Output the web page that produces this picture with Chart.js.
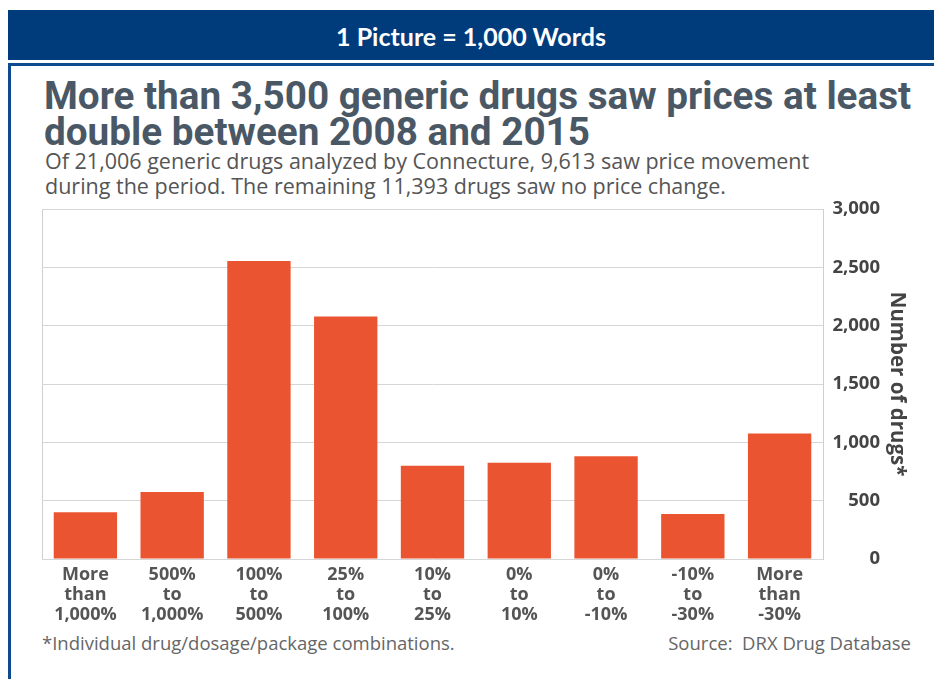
<!DOCTYPE html>
<html>
<head>
<meta charset="utf-8">
<script src="https://cdn.jsdelivr.net/npm/chart.js@4"></script>
<style>
  body { margin: 0; background: #fff; width: 934px; height: 679px; overflow: hidden; position: relative; }
  .banner { position: absolute; left: 8px; top: 10px; width: 926px; height: 50px; background: #003b7c;
    color: #fff; font: bold 25px Lato, sans-serif; text-align: center; line-height: 52px; }
  .frame { position: absolute; left: 8px; top: 63px; width: 960px; height: 640px; border: 3px solid #0e4a8e; }
  .title { position: absolute; left: 44px; top: 78px; font: bold 38.7px Roboto, sans-serif; color: #4a5866;
    line-height: 36px; white-space: nowrap; }
  .sub { position: absolute; left: 45px; top: 148px; font: 21.5px "Open Sans", sans-serif; color: #555;
    line-height: 25px; white-space: nowrap; }
  .foot { position: absolute; top: 630px; font: 18.5px "Open Sans", sans-serif; color: #666; white-space: nowrap; }
  .chart { position: absolute; left: 20px; top: 190px; width: 910px; height: 440px; }
</style>
</head>
<body>
<div class="banner">1 Picture = 1,000 Words</div>
<div class="frame"></div>
<div class="title">More than 3,500 generic drugs saw prices at least<br>double between 2008 and 2015</div>
<div class="sub">Of 21,006 generic drugs analyzed by Connecture, 9,613 saw price movement<br>during the period. The remaining 11,393 drugs saw no price change.</div>
<div class="chart"><canvas id="chart" width="910" height="440"></canvas></div>
<div class="foot" style="left:42px">*Individual drug/dosage/package combinations.</div>
<div class="foot" style="right:23px">Source:&nbsp; DRX Drug Database</div>
<script>
// Price change buckets, 2008-2015
const categories = [
  ['More', 'than', '1,000%'],
  ['500%', 'to', '1,000%'],
  ['100%', 'to', '500%'],
  ['25%', 'to', '100%'],
  ['10%', 'to', '25%'],
  ['0%', 'to', '10%'],
  ['0%', 'to', '-10%'],
  ['-10%', 'to', '-30%'],
  ['More', 'than', '-30%']
];
const drugCounts = [400, 575, 2555, 2080, 800, 825, 880, 385, 1075];
const yTicks = [0, 500, 1000, 1500, 2000, 2500, 3000];

const ctx = document.getElementById('chart').getContext('2d');
new Chart(ctx, {
  type: 'bar',
  data: {
    labels: categories,
    datasets: [{
      label: 'Number of drugs',
      data: drugCounts,
      backgroundColor: '#eb5430',
      categoryPercentage: 1,
      barPercentage: 0.73
    }]
  },
  options: {
    responsive: false,
    animation: false,
    // right padding pulls the y axis box in so its labels end at the right spot
    layout: { padding: { left: 22, top: 14, right: 50, bottom: 0 } },
    plugins: {
      legend: { display: false },
      tooltip: { enabled: false }
    },
    scales: {
      x: {
        grid: {
          drawTicks: false,
          color: c => c.index === 0 ? '#cfcfcf' : 'transparent'
        },
        border: { display: false },
        ticks: {
          padding: 6,
          maxRotation: 0,
          autoSkip: false,
          color: '#555',
          font: { family: 'Open Sans', weight: 'bold', size: 18, lineHeight: 1.1 }
        },
        afterFit: axis => { axis.height = 71; }
      },
      y: {
        position: 'right',
        min: 0,
        max: 3000,
        afterBuildTicks: axis => { axis.ticks = yTicks.map(v => ({ value: v })); },
        grid: { drawTicks: false, color: '#d6d6d6' },
        border: { display: true, color: '#cfcfcf' },
        ticks: {
          padding: 8,
          crossAlign: 'far',
          color: '#444',
          font: { family: 'Open Sans', weight: 'bold', size: 18.5 }
        },
        title: {
          display: true,
          text: 'Number of drugs*',
          color: '#444',
          padding: { top: -29.5 },
          font: { family: 'Open Sans', weight: 'bold', size: 20.5 }
        },
        afterFit: axis => { axis.width = 57; }
      }
    }
  }
});
</script>
</body>
</html>
